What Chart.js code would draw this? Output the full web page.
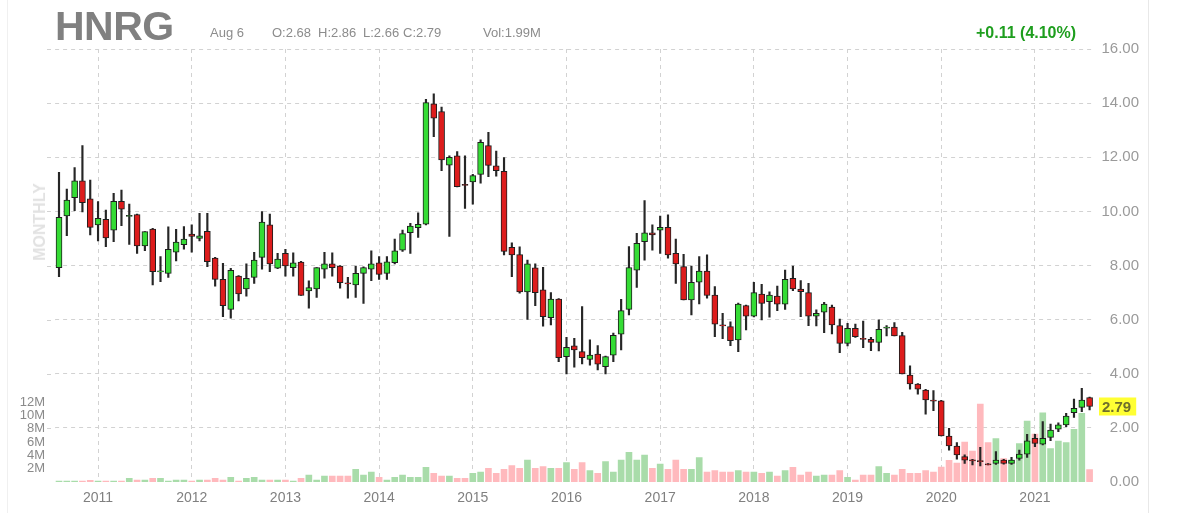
<!DOCTYPE html>
<html>
<head>
<meta charset="utf-8">
<title>HNRG monthly</title>
<script src="https://cdn.jsdelivr.net/npm/chart.js@4.4.0/dist/chart.umd.min.js"></script>
<style>
  html, body { margin: 0; padding: 0; background: #fff; }
  #wrap { position: relative; width: 1200px; height: 513px; overflow: hidden;
          font-family: "Liberation Sans", Arial, sans-serif; }
  #wrap canvas { position: absolute; left: 0; top: 0; }
  #frame { position: absolute; left: 7px; top: 0; width: 1142px; height: 513px;
           border-left: 1px solid #f0f0f0; border-right: 1px solid #e8e8e8; box-sizing: border-box; }
  .hd { position: absolute; white-space: nowrap; z-index: 2; }
  #ticker { left: 55px; top: 3px; font-size: 41px; font-weight: bold; color: #808080; letter-spacing: -0.5px; }
  .info { top: 25px; font-size: 13px; line-height: 16px; color: #8c8c8c; }
  #change { left: 976px; top: 23px; font-size: 16px; line-height: 20px; font-weight: bold; color: #1e9e1e; }
  #period { font-size: 16px; font-weight: bold; color: #e2e2e2;
            transform: translate(-50%, -50%) rotate(-90deg); transform-origin: center; left: 40px; top: 222px; }
</style>
</head>
<body>
<div id="wrap">
  <div id="frame"></div>
  <canvas id="chart" width="1200" height="513"></canvas>
  <div class="hd" id="ticker">HNRG</div>
  <div class="hd info" style="left:210px">Aug 6</div>
  <div class="hd info" style="left:272px">O:2.68</div>
  <div class="hd info" style="left:318px">H:2.86</div>
  <div class="hd info" style="left:363px">L:2.66</div>
  <div class="hd info" style="left:403px">C:2.79</div>
  <div class="hd info" style="left:483px">Vol:1.99M</div>
  <div class="hd" id="change">+0.11 (4.10%)</div>
  <div class="hd" id="period">MONTHLY</div>
</div>
<script>
// === Données mensuelles (août 2010 -> août 2021) ===
const startYear = 2010;
const startMonth = 7; // août

const opens = [
  7.92, 9.83, 10.51, 11.13, 10.46, 9.50, 9.71, 9.31, 10.37, 9.82,
  9.88, 8.72, 9.35, 7.77, 7.71, 8.49, 8.77, 9.16, 9.00, 9.26,
  8.27, 7.49, 6.38, 7.61, 7.13, 7.56, 8.30, 9.50, 7.90, 8.45,
  7.92, 8.13, 7.06, 7.13, 7.86, 8.06, 7.98, 7.35, 7.28, 7.71,
  7.86, 8.10, 7.71, 8.10, 8.57, 9.21, 9.40, 9.53, 13.97, 13.69,
  11.71, 12.05, 10.98, 11.09, 11.37, 12.43, 11.68, 11.48, 8.67, 8.40,
  7.02, 7.91, 7.10, 6.07, 6.76, 4.63, 5.03, 4.82, 4.53, 4.73,
  4.26, 4.69, 5.46, 6.38, 7.83, 8.88, 9.21, 9.31, 9.41, 8.45,
  7.96, 6.73, 7.38, 7.79, 6.91, 5.80, 5.74, 5.25, 6.52, 6.13,
  6.94, 6.66, 6.87, 6.57, 7.53, 7.13, 7.00, 6.13, 6.28, 6.46,
  5.78, 5.12, 5.68, 5.30, 5.27, 5.16, 5.68, 5.72, 5.41, 3.95,
  3.62, 3.40, 3.02, 3.00, 1.70, 1.33, 0.94, 0.80, 0.78, 0.66,
  0.69, 0.81, 0.69, 0.87, 1.03, 1.61, 1.40, 1.65, 1.95, 2.11,
  2.56, 2.76, 3.12
];
const highs = [
  11.44, 10.82, 11.62, 12.43, 11.16, 10.36, 10.05, 10.67, 10.79, 10.27,
  9.90, 9.25, 9.37, 8.33, 9.43, 9.34, 9.44, 9.50, 9.93, 9.93,
  8.30, 8.08, 7.90, 7.63, 8.06, 8.49, 9.99, 9.90, 8.45, 8.60,
  8.47, 8.15, 7.43, 7.92, 8.49, 8.47, 8.00, 7.56, 7.98, 7.95,
  8.54, 8.33, 8.33, 8.98, 9.31, 9.56, 9.95, 14.14, 14.34, 13.85,
  12.05, 12.21, 12.05, 11.37, 12.64, 12.92, 12.23, 11.99, 8.84, 8.69,
  8.20, 8.06, 7.93, 7.00, 6.78, 5.35, 5.31, 6.48, 5.25, 5.04,
  4.65, 5.50, 6.75, 8.70, 9.19, 10.40, 9.50, 9.83, 9.87, 8.98,
  8.41, 7.98, 8.33, 8.39, 7.22, 6.23, 5.92, 6.61, 6.54, 7.38,
  7.30, 7.03, 7.24, 7.83, 7.98, 7.44, 7.34, 6.36, 6.64, 6.54,
  6.02, 5.86, 5.84, 5.95, 5.35, 5.99, 5.78, 5.89, 5.53, 4.29,
  3.64, 3.42, 3.38, 3.02, 1.98, 1.46, 1.00, 0.84, 1.28, 0.68,
  1.12, 0.84, 0.91, 1.18, 1.76, 1.76, 2.23, 2.14, 2.19, 2.54,
  3.06, 3.46, 3.14
];
const lows = [
  7.59, 9.10, 10.03, 9.98, 9.13, 8.91, 8.70, 8.88, 9.47, 8.78,
  8.45, 8.55, 7.28, 7.40, 7.56, 8.17, 8.60, 8.49, 8.91, 7.96,
  7.24, 6.11, 6.05, 6.69, 6.87, 7.34, 7.86, 7.77, 7.88, 7.61,
  7.61, 6.89, 6.42, 6.82, 7.53, 7.61, 7.16, 6.79, 6.82, 6.60,
  7.44, 7.49, 7.49, 8.06, 8.52, 8.45, 9.04, 9.50, 12.76, 11.50,
  9.07, 10.90, 10.11, 10.27, 11.04, 11.28, 11.30, 8.39, 7.59, 6.98,
  6.01, 6.52, 5.76, 5.80, 4.45, 3.99, 4.24, 4.36, 4.32, 4.14,
  3.99, 4.45, 4.88, 6.17, 7.19, 8.20, 8.57, 8.45, 8.27, 7.34,
  6.73, 6.17, 6.58, 6.79, 5.37, 5.30, 5.04, 4.82, 5.62, 6.10,
  5.99, 6.09, 6.33, 6.38, 7.07, 6.11, 5.78, 5.77, 5.52, 5.47,
  4.78, 5.03, 5.34, 4.96, 4.85, 4.84, 5.40, 5.40, 3.99, 3.43,
  3.25, 2.51, 2.64, 1.70, 1.18, 0.84, 0.69, 0.63, 0.59, 0.63,
  0.65, 0.66, 0.65, 0.81, 0.91, 1.31, 1.37, 1.53, 1.86, 2.04,
  2.39, 2.60, 2.66
];
const closes = [
  9.78, 10.42, 11.13, 10.32, 9.41, 9.74, 9.02, 10.37, 10.08, 9.84,
  8.72, 9.25, 7.77, 7.79, 8.60, 8.87, 8.98, 9.07, 9.10, 8.14,
  7.49, 6.52, 7.82, 6.95, 7.53, 8.20, 9.60, 8.06, 8.24, 7.98,
  8.10, 6.89, 7.18, 7.92, 8.06, 7.92, 7.37, 7.33, 7.71, 7.92,
  8.06, 7.67, 8.14, 8.54, 9.18, 9.46, 9.52, 14.02, 13.44, 11.90,
  12.00, 10.91, 10.97, 11.32, 12.55, 11.70, 11.50, 8.52, 8.39, 7.02,
  8.06, 7.00, 6.11, 6.76, 4.59, 4.98, 4.88, 4.59, 4.69, 4.35,
  4.63, 5.42, 6.33, 7.92, 8.82, 9.21, 9.13, 9.41, 8.39, 8.06,
  6.73, 7.38, 7.79, 6.89, 5.83, 5.78, 5.22, 6.57, 6.13, 7.00,
  6.60, 6.91, 6.57, 7.49, 7.13, 7.03, 6.13, 6.23, 6.57, 5.80,
  5.12, 5.68, 5.37, 5.28, 5.16, 5.64, 5.72, 5.40, 3.99, 3.62,
  3.43, 3.03, 3.00, 1.70, 1.33, 1.00, 0.81, 0.79, 0.76, 0.65,
  0.81, 0.69, 0.81, 1.03, 1.52, 1.43, 1.61, 1.92, 2.11, 2.44,
  2.72, 3.03, 2.79
];
// volume en millions
const volumes = [
  0.15, 0.15, 0.15, 0.15, 0.25, 0.15, 0.15, 0.15, 0.15, 0.55,
  0.30, 0.30, 0.55, 0.55, 0.15, 0.30, 0.30, 0.15, 0.30, 0.30,
  0.55, 0.30, 0.70, 0.15, 0.55, 0.70, 0.30, 0.30, 0.30, 0.30,
  0.15, 0.55, 1.05, 0.30, 0.90, 0.90, 0.90, 0.90, 1.90, 1.05,
  1.50, 0.70, 0.30, 0.70, 1.05, 0.70, 0.70, 2.20, 1.30, 0.90,
  0.90, 0.55, 0.55, 1.30, 1.50, 2.05, 1.30, 1.90, 2.45, 2.05,
  3.30, 2.05, 2.30, 2.05, 2.05, 2.90, 1.90, 2.90, 1.70, 1.30,
  3.05, 1.50, 3.30, 4.45, 3.30, 4.05, 2.05, 2.70, 1.90, 3.30,
  1.90, 1.90, 3.65, 1.50, 1.70, 1.50, 1.50, 1.70, 1.50, 1.50,
  1.30, 1.50, 0.90, 1.70, 2.20, 1.05, 1.50, 0.90, 1.05, 1.05,
  1.70, 0.70, 0.30, 1.05, 1.05, 2.30, 1.30, 1.05, 1.90, 1.30,
  1.30, 1.70, 1.50, 2.25, 3.25, 2.85, 6.00, 4.65, 11.70, 5.90,
  6.50, 3.50, 3.30, 5.75, 9.15, 7.20, 10.40, 5.00, 6.15, 5.90,
  7.90, 10.30, 1.85
];

const priceTicks = [0, 2, 4, 6, 8, 10, 12, 14, 16];
const volumeTicks = [2, 4, 6, 8, 10, 12];
const volumeMax = 65; // l'axe volume couvre toute la hauteur

// libellés des mois
const months = [];
for (let i = 0; i < opens.length; i++) {
  const m = (startMonth + i) % 12;
  const y = startYear + Math.floor((startMonth + i) / 12);
  months.push(y + "-" + String(m + 1).padStart(2, "0"));
}
const isJanuary = i => months[i] && months[i].endsWith("-01");

// === Couleurs ===
const upColor = "#35dc35";
const downColor = "#dd1c1c";
const volUp = "#a9dcaa";
const volDown = "#ffb9bd";
const gridColor = "#d2d2d2";

const isUp = opens.map((o, i) => closes[i] >= o);

// corps des bougies (un doji garde une petite épaisseur)
const bodyData = opens.map((o, i) => {
  const c = closes[i];
  if (Math.abs(c - o) < 0.04) {
    const mid = (o + c) / 2;
    return [mid - 0.02, mid + 0.02];
  }
  return [o, c];
});
const wickData = lows.map((l, i) => [l, highs[i]]);

// prolonge les lignes horizontales un peu à gauche de la zone
const gridStub = {
  id: "gridStub",
  beforeDatasetsDraw(chart) {
    const ctx = chart.ctx;
    const left = chart.chartArea.left;
    ctx.save();
    ctx.strokeStyle = gridColor;
    ctx.lineWidth = 1;
    ctx.setLineDash([4, 4]);
    priceTicks.filter(v => v > 0).forEach(v => {
      const y = Math.round(chart.scales.price.getPixelForValue(v)) + 0.5;
      ctx.beginPath();
      ctx.moveTo(47, y);
      ctx.lineTo(left, y);
      ctx.stroke();
    });
    ctx.restore();
  }
};

// étiquette jaune du dernier cours
const lastPriceTag = {
  id: "lastPriceTag",
  afterDraw(chart) {
    const last = closes[closes.length - 1];
    const y = chart.scales.price.getPixelForValue(last);
    const ctx = chart.ctx;
    ctx.save();
    ctx.font = "bold 15px 'Liberation Sans', Arial, sans-serif";
    const txt = last.toFixed(2);
    const w = ctx.measureText(txt).width;
    ctx.fillStyle = "#ffff33";
    ctx.fillRect(1099, y - 9, w + 8, 18);
    ctx.fillStyle = "#6f6f2c";
    ctx.textBaseline = "middle";
    ctx.textAlign = "left";
    ctx.fillText(txt, 1102, y + 1);
    ctx.restore();
  }
};

const ctx = document.getElementById("chart").getContext("2d");
new Chart(ctx, {
  type: "bar",
  data: {
    labels: months,
    datasets: [
      {
        label: "body",
        data: bodyData,
        yAxisID: "price",
        backgroundColor: isUp.map(u => (u ? upColor : downColor)),
        borderColor: "#1e1e1e",
        borderWidth: 1,
        borderSkipped: false,
        barThickness: 6,
        grouped: false,
        order: 0
      },
      {
        label: "wick",
        data: wickData,
        yAxisID: "price",
        backgroundColor: "#262626",
        borderWidth: 0,
        barThickness: 1.5,
        grouped: false,
        order: 1
      },
      {
        label: "volume",
        data: volumes,
        yAxisID: "vol",
        backgroundColor: isUp.map(u => (u ? volUp : volDown)),
        borderWidth: 0,
        barThickness: 6,
        grouped: false,
        order: 2
      }
    ]
  },
  options: {
    responsive: false,
    devicePixelRatio: 1,
    animation: false,
    events: [],
    layout: { padding: { left: 0, right: 61, top: 49, bottom: 0 } },
    plugins: {
      legend: { display: false },
      tooltip: { enabled: false }
    },
    scales: {
      x: {
        type: "category",
        offset: true,
        grid: {
          offset: false,
          drawTicks: false,
          color: c => (isJanuary(c.index) ? gridColor : "rgba(0,0,0,0)")
        },
        border: { display: false, dash: [4, 4] },
        ticks: {
          autoSkip: false,
          maxRotation: 0,
          padding: 8,
          color: "#808080",
          font: { family: "'Liberation Sans', Arial, sans-serif", size: 14 },
          callback: (v, i) => (isJanuary(i) ? months[i].slice(0, 4) : "")
        },
        afterFit: s => { s.height = 31; }
      },
      price: {
        position: "right",
        min: 0,
        max: 16,
        afterBuildTicks: s => { s.ticks = priceTicks.map(v => ({ value: v })); },
        grid: {
          drawTicks: false,
          color: c => (c.tick && c.tick.value > 0 ? gridColor : "rgba(0,0,0,0)")
        },
        border: { display: false, dash: [4, 4] },
        ticks: {
          crossAlign: "far",
          padding: 6,
          color: "#9a9a9a",
          font: { family: "'Liberation Sans', Arial, sans-serif", size: 15 },
          callback: v => Number(v).toFixed(2)
        },
        afterFit: s => { s.width = 45.5; }
      },
      vol: {
        position: "left",
        min: 0,
        max: volumeMax,
        afterBuildTicks: s => { s.ticks = volumeTicks.map(v => ({ value: v })); },
        grid: { display: false },
        border: { display: false },
        ticks: {
          padding: 2,
          color: "#8a8a8a",
          font: { family: "'Liberation Sans', Arial, sans-serif", size: 13 },
          callback: v => v + "M"
        },
        afterFit: s => { s.width = 55.1; }
      }
    }
  },
  plugins: [gridStub, lastPriceTag]
});
</script>
</body>
</html>
